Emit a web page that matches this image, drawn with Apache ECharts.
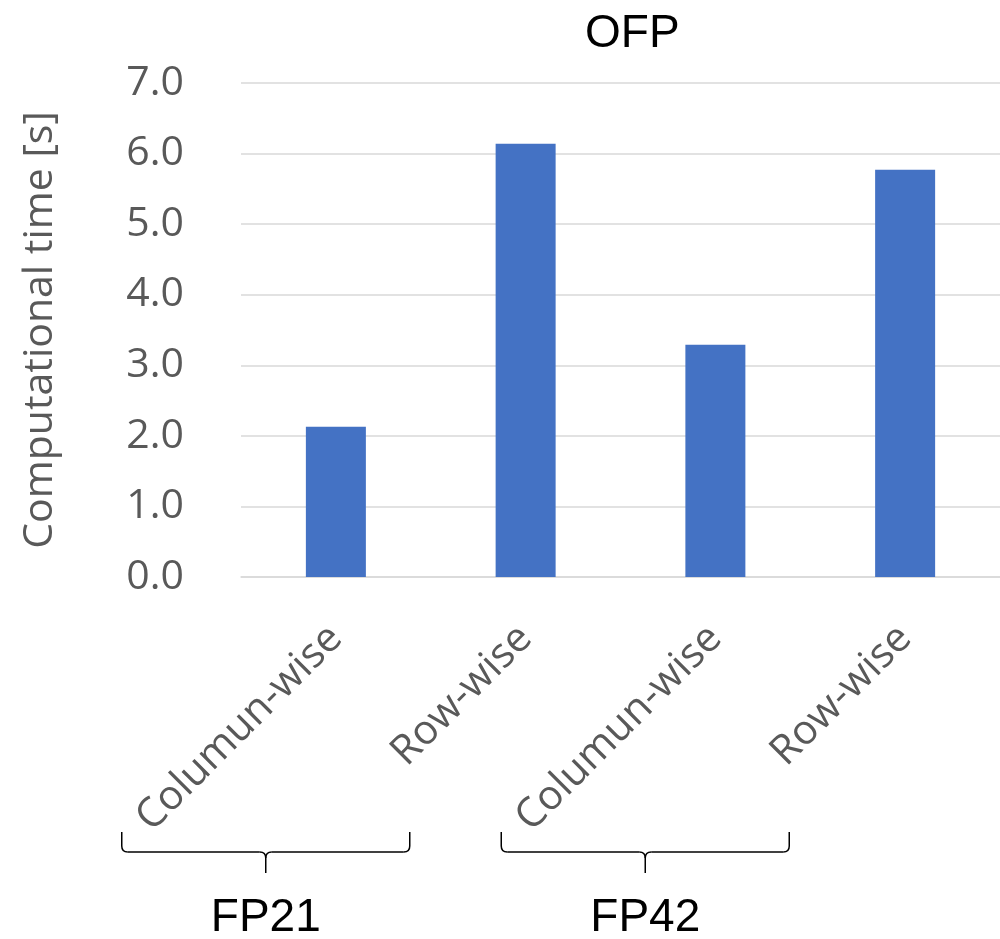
<!DOCTYPE html>
<html>
<head>
<meta charset="utf-8">
<title>OFP</title>
<script src="https://cdn.jsdelivr.net/npm/echarts@6/dist/echarts.min.js"></script>
<style>
  html, body { margin: 0; padding: 0; background: #fff; }
  #chart { width: 1000px; height: 939px; }
</style>
</head>
<body>
<div id="chart"></div>
<script>
// Bar labels, their grouping and the measured times
const categories = ['Columun-wise', 'Row-wise', 'Columun-wise', 'Row-wise'];
const groups = ['FP21', 'FP42'];
const groupMembers = [[0, 1], [2, 3]];
const timeSeconds = [2.13, 6.14, 3.29, 5.77];

const GRAY = '#595959';
const GRID_LINE = '#D9D9D9';
const SANS = '"Open Sans", "Noto Sans", sans-serif';
const ARIAL = '"Liberation Sans", Arial, sans-serif';

const chart = echarts.init(document.getElementById('chart'));

chart.setOption({
  animation: false,
  backgroundColor: '#ffffff',
  title: {
    text: 'OFP',
    left: 580,
    top: 6,
    textStyle: { fontFamily: ARIAL, fontSize: 46, fontWeight: 'normal', color: '#000000' }
  },
  grid: { left: 241, top: 83, width: 762, bottom: 362, containLabel: false },
  xAxis: {
    type: 'category',
    data: categories,
    axisLine: { show: true, lineStyle: { color: GRID_LINE, width: 1.5 } },
    axisTick: { show: false },
    axisLabel: {
      interval: 0,
      rotate: 45,
      margin: 55,
      color: GRAY,
      fontFamily: SANS,
      fontSize: 41
    }
  },
  yAxis: {
    type: 'value',
    min: 0,
    max: 7,
    interval: 1,
    name: 'Computational time [s]',
    nameLocation: 'middle',
    nameGap: 180,
    nameTextStyle: { color: GRAY, fontFamily: SANS, fontSize: 41 },
    axisLine: { show: false },
    axisTick: { show: false },
    splitLine: { lineStyle: { color: GRID_LINE, width: 1.5 } },
    axisLabel: {
      margin: 57,
      color: GRAY,
      fontFamily: SANS,
      fontSize: 41,
      formatter: v => v.toFixed(1)
    }
  },
  series: [{
    type: 'bar',
    data: timeSeconds,
    barWidth: 60,
    itemStyle: { color: '#4472C4' }
  }]
});

// Group braces and group names under the rotated category labels
function drawGroups() {
  const stroke = { stroke: '#000000', lineWidth: 1.5, fill: null };
  const elements = [];
  const r = 6;
  groups.forEach((name, g) => {
    const xs = groupMembers[g].map(i => chart.convertToPixel({ gridIndex: 0 }, [i, 0])[0]);
    const mid = (xs[0] + xs[xs.length - 1]) / 2 - 165;
    const x0 = mid - 144, x1 = mid + 144;
    const yTop = 832, yBar = 852, yTip = 873;
    const line = (ax, ay, bx, by) => ({
      type: 'line', shape: { x1: ax, y1: ay, x2: bx, y2: by }, style: stroke
    });
    const curve = (ax, ay, cx, cy, bx, by) => ({
      type: 'bezierCurve', shape: { x1: ax, y1: ay, cpx1: cx, cpy1: cy, x2: bx, y2: by }, style: stroke
    });
    elements.push(
      line(x0, yTop, x0, yBar - r),
      curve(x0, yBar - r, x0, yBar, x0 + r, yBar),
      line(x0 + r, yBar, mid - r, yBar),
      curve(mid - r, yBar, mid, yBar, mid, yBar + r),
      curve(mid + r, yBar, mid, yBar, mid, yBar + r),
      line(mid, yBar + r, mid, yTip),
      line(mid + r, yBar, x1 - r, yBar),
      curve(x1 - r, yBar, x1, yBar, x1, yBar - r),
      line(x1, yBar - r, x1, yTop)
    );
    elements.push({
      type: 'text',
      x: mid,
      y: 918,
      style: {
        text: name,
        fill: '#000000',
        font: `46px ${ARIAL}`,
        textAlign: 'center',
        textVerticalAlign: 'middle'
      }
    });
  });
  chart.setOption({ graphic: elements });
}
drawGroups();
</script>
</body>
</html>
